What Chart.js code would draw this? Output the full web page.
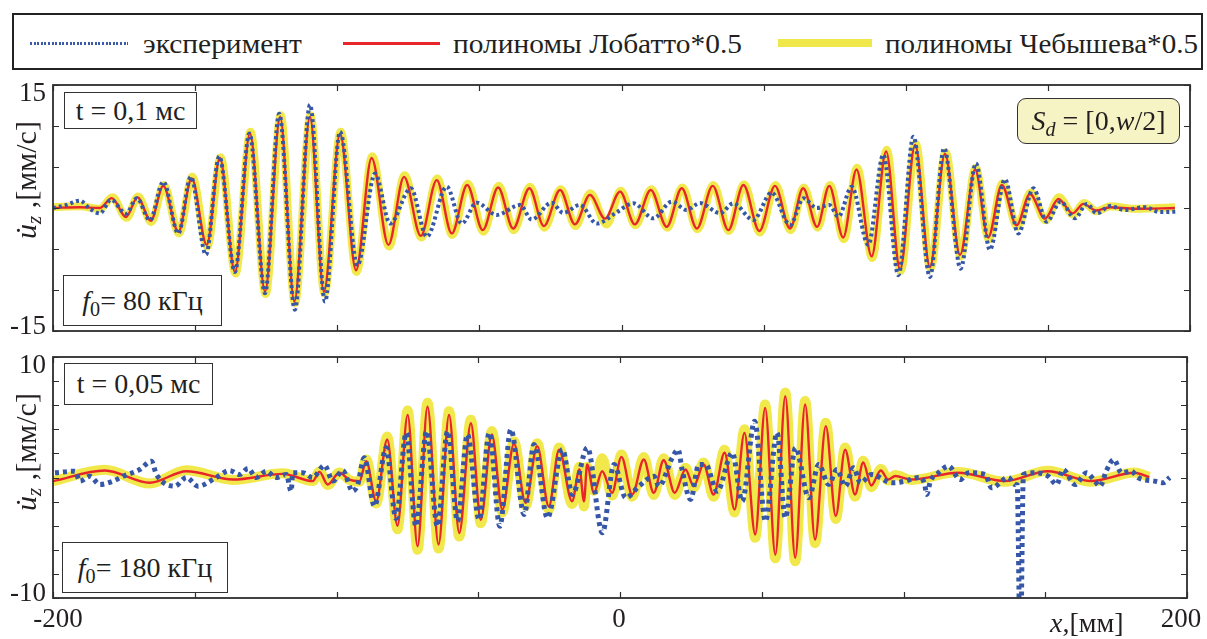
<!DOCTYPE html>
<html>
<head>
<meta charset="utf-8">
<script src="https://cdn.jsdelivr.net/npm/chart.js@4.4.0/dist/chart.umd.min.js"></script>
<style>
html,body{margin:0;padding:0;background:#fff;}
#page{position:relative;width:1207px;height:639px;overflow:hidden;font-family:"Liberation Serif","LiberationSerif","Tinos","DejaVu Serif","Noto Serif","Times New Roman",serif;color:#231f20;}
canvas{position:absolute;left:0;top:0;}
.t{position:absolute;font-size:28px;line-height:28px;white-space:nowrap;}
.box{position:absolute;border:1.5px solid #333;background:#fff;box-sizing:border-box;font-size:28px;line-height:1;white-space:nowrap;display:flex;align-items:center;justify-content:center;}
.box sub{font-size:0.72em;vertical-align:-0.32em;line-height:0;}
.ytitle{position:absolute;transform:translate(-50%,-50%) rotate(-90deg);font-size:30px;line-height:1;white-space:nowrap;}
.ytitle sub{font-size:0.7em;vertical-align:-0.25em;line-height:0;}
#legend{position:absolute;left:12px;top:13px;width:1191px;height:57px;border:2px solid #222;box-sizing:border-box;background:#fff;}
.sw{position:absolute;}
</style>
</head>
<body>
<div id="page">
  <div id="legend"></div>
  <div class="sw" style="left:30px;top:42px;width:98px;height:3px;background:repeating-linear-gradient(90deg,#3b5ba8 0 2px,transparent 2px 3.6px);"></div>
  <div class="t" data-w="159" style="left:143px;top:30px;">эксперимент</div>
  <div class="sw" style="left:343px;top:42px;width:97px;height:2.5px;background:#e8262a;"></div>
  <div class="t" data-w="289" style="left:453px;top:30px;">полиномы Лобатто*0.5</div>
  <div class="sw" style="left:778px;top:39px;width:94px;height:8px;background:#f0e84a;"></div>
  <div class="t" data-w="313" style="left:885px;top:30px;">полиномы Чебышева*0.5</div>

  <canvas id="c1" width="1207" height="639"></canvas>
  <canvas id="c2" width="1207" height="639"></canvas>

  <div class="ytitle" style="left:26px;top:180px;"><i>u&#775;</i><sub><i>z</i></sub> ,[мм/с]</div>
  <div class="ytitle" style="left:26px;top:452px;"><i>u&#775;</i><sub><i>z</i></sub> ,[мм/с]</div>

  <div class="box" style="left:64px;top:92px;width:133px;height:37px;"><span>t = 0,1 мс</span></div>
  <div class="box" style="left:63px;top:275px;width:159px;height:51px;"><span><i>f</i><sub>0</sub>= 80 кГц</span></div>
  <div class="box" style="left:1017px;top:98px;width:163px;height:46px;border-radius:9px;background:#f6f3c4;"><span><i>S</i><sub><i>d</i></sub>&nbsp;= [0,<i>w</i>/2]</span></div>
  <div class="box" style="left:64px;top:363px;width:149px;height:42px;"><span>t = 0,05 мс</span></div>
  <div class="box" style="left:62px;top:542px;width:166px;height:51px;"><span><i>f</i><sub>0</sub>= 180 кГц</span></div>

  <div class="t" style="left:1050px;top:609px;"><i>x</i>,[мм]</div>
</div>
<script>
// ---------- data (x in mm, y in mm/s) ----------
const xTicks = [-200,-150,-100,-50,0,50,100,150,200];
const xTickLabels = [[-200,'-200'],[0,'0'],[200,'200']];
const topYTicks = [-15,-10,-5,0,5,10,15];
const topYTickLabels = [[15,'15'],[-15,'-15']];
const botYTicks = [-10,-8,-6,-4,-2,0,2,4,6,8,10];
const botYTickLabels = [[10,'10'],[-10,'-10']];

// panel 1: t = 0.1 ms, f0 = 80 kHz
const topExperiment = [[-200,0],[-195.5,0.35],[-190.5,0.9],[-187,-0.1],[-183.5,-0.65],[-179.6,1.0],[-174.3,-0.7],[-170.5,1.2],[-165.9,-1.5],[-161.2,3.2],[-155.9,-3.1],[-151.5,3.8],[-146.2,-5.7],[-141.5,6.3],[-136,-7.8],[-130.9,9.1],[-125.4,-10.4],[-120.4,11.5],[-114.9,-12.4],[-109.6,12.6],[-104.3,-11.4],[-99,9.3],[-92.9,-7.0],[-86.7,4.2],[-81.4,-1.9],[-74.1,2.4],[-68.5,-3.5],[-61.5,2.6],[-56.2,-1.9],[-51,0.65],[-43.9,-0.85],[-35.7,0.37],[-31.6,-1.4],[-24.6,0.65],[-20.5,-0.6],[-14.6,0.37],[-8.7,-1.9],[-2,-0.6],[4.2,0.57],[11.2,-1.26],[17.7,0.77],[22.9,-0.24],[27.6,0.6],[34.7,-0.65],[39.3,0.57],[46.4,-1.46],[52.8,1.87],[59.3,-2.07],[64,1.18],[68.7,0],[73.1,0.37],[76.3,-1.06],[81,2.6],[86.8,-4.5],[92.1,6.5],[97.4,-8.2],[102.7,8.7],[108.5,-8.4],[113.5,7.3],[119.3,-7.4],[124.7,5.45],[129.6,-5.1],[134.9,3.5],[139.6,-3.1],[144.9,2.4],[149.6,-1.67],[154.5,0.77],[159.5,-1.26],[163.7,0.49],[167.2,-0.65],[171.9,0.25],[177.1,-0.25],[184.2,0.1],[189.4,-0.5],[195.3,-0.45]];
const topLobatto = [[-200,0],[-190.5,0.1],[-183.5,0],[-179.3,1.2],[-174.3,-1.1],[-170.3,1.3],[-165.6,-1.55],[-161.2,2.7],[-155.9,-2.9],[-151.2,3.6],[-145.9,-4.5],[-141.3,6.1],[-136,-7.8],[-130.7,9.1],[-125.4,-10.2],[-120.1,11.1],[-115.1,-11.4],[-109.6,11.1],[-104.7,-10.2],[-99,9.1],[-93.4,-7.6],[-87.9,6.1],[-82,-4.5],[-76.5,3.8],[-70.6,-3.4],[-65,3.4],[-59.7,-3.1],[-54.3,2.8],[-48.8,-2.7],[-43.4,2.5],[-38.1,-2.5],[-32.4,2.4],[-27.3,-2.2],[-21.6,2.2],[-16.4,-2.0],[-11.1,1.6],[-5.8,-1.3],[-0.5,2.0],[4.7,-2.0],[10.3,2.2],[15.9,-2.3],[21.2,2.4],[26.5,-2.5],[32.1,2.7],[37.6,-2.7],[42.9,2.8],[48.5,-2.8],[54,2.7],[59.3,-2.5],[63.9,2.4],[68.8,-2.3],[73.1,2.7],[78,-3.6],[82.7,4.7],[88,-5.9],[93.1,6.9],[98,-7.5],[103.3,7.7],[108.5,-7.2],[113.8,6.6],[119.1,-5.7],[124.4,4.7],[129,-3.6],[133.8,2.8],[139,-2.1],[143.7,1.7],[149,-1.3],[153.7,1.1],[158.7,-0.65],[162.5,0.5],[166.9,-0.3],[171.9,0.1],[180.7,-0.1],[194.7,0]];
const topChebyshev = [[-200,0.1],[-190.5,0.2],[-183.5,-0.1],[-179.1,1.3],[-174.1,-1.2],[-170.1,1.4],[-165.4,-1.7],[-161,2.8],[-155.7,-3.1],[-151,3.8],[-145.7,-4.7],[-141,6.2],[-135.8,-8.0],[-130.5,9.3],[-125.2,-10.5],[-119.9,11.3],[-114.9,-11.6],[-109.4,11.3],[-104.5,-10.4],[-98.8,9.3],[-93.2,-7.8],[-87.7,6.3],[-81.8,-4.7],[-76.3,4.0],[-70.4,-3.6],[-64.8,3.6],[-59.5,-3.3],[-54.1,3.0],[-48.6,-2.9],[-43.2,2.7],[-37.9,-2.7],[-32.2,2.6],[-27.1,-2.4],[-21.4,2.3],[-16.2,-2.2],[-11,1.8],[-5.2,-2.0],[-0.3,2.1],[4.9,-2.1],[10.5,2.3],[16.1,-2.4],[21.4,2.5],[26.7,-2.6],[32.3,2.8],[37.8,-2.8],[43.1,2.9],[48.7,-3.0],[54.2,2.8],[59.5,-2.7],[64.1,2.5],[69,-2.4],[73.3,2.8],[78.2,-3.8],[82.9,4.9],[88.2,-6.1],[93.3,7.1],[98.2,-7.7],[103.5,7.9],[108.7,-7.4],[114,6.8],[119.3,-5.9],[124.6,4.9],[129.2,-3.8],[134,3.0],[139.2,-2.3],[143.9,1.9],[149.2,-1.5],[153.9,1.3],[158.9,-0.8],[162.7,0.6],[167.1,-0.4],[172,0.2],[180.8,-0.1],[194.7,0.1]];

// panel 2: t = 0.05 ms, f0 = 180 kHz
const botExperiment = [[-199.3,0.39],[-192.3,0.52],[-190.5,-0.3],[-187,0.1],[-183.5,-0.58],[-178.8,-0.3],[-175.3,0.1],[-169.4,0.66],[-165.3,1.35],[-163.5,0.25],[-157.1,-0.72],[-152.9,0],[-148.9,-0.72],[-142.4,0],[-137.7,0.58],[-134.2,0.25],[-131.2,0.75],[-128.3,0],[-124.8,0.52],[-121.3,0],[-117.7,0.25],[-116,-1.14],[-115.4,0.39],[-111.9,0.39],[-108.4,0],[-104.2,1.02],[-101.3,-0.3],[-97.8,0.58],[-94.3,-1.14],[-92.5,-0.58],[-90.2,1.63],[-86.6,-2.38],[-82.5,2.46],[-79,-3.4],[-75.4,3.7],[-72,-4.04],[-68.2,3.84],[-64.4,-4.04],[-60.8,3.84],[-57.3,-3.63],[-53.8,3.57],[-49.7,-3.49],[-46.1,3.7],[-42.4,-4.04],[-38.5,3.98],[-33.8,-3.07],[-30.3,2.74],[-25.6,-3.35],[-20.3,2.32],[-16.8,-1.41],[-11.5,2.46],[-6.2,-4.59],[-2.1,1.08],[2,-1.68],[6.7,-0.72],[12,0.1],[13.7,-0.72],[18.4,1.63],[20.5,2.32],[21.9,0.66],[24.9,-1.83],[27.8,1.08],[30.2,1.08],[34.3,-1.14],[39.6,2.05],[43.1,-1.97],[47.5,4.67],[51.3,-3.63],[55.4,3.71],[58.3,-3.35],[61.9,2.46],[66.6,-1.68],[70.1,1.08],[73.6,-0.58],[76.5,0.66],[79.5,-0.72],[82.4,0.8],[84.8,-0.44],[88.8,0.25],[95.9,-0.44],[100.6,-0.3],[105.3,0],[107.4,-0.5],[108.2,-1.41],[109.5,-0.3],[112.3,0.39],[115.9,0.94],[120,-0.17],[122.9,0.39],[128.8,0.25],[131.1,-0.86],[137,0],[139.3,-0.58],[140.1,-0.6],[141.2,-15],[142.3,0.25],[146.4,0.39],[151.1,0.1],[154,-0.58],[156.3,0.66],[160.5,-0.58],[164.6,0.39],[167.5,-0.3],[169.3,-0.72],[171.6,0.58],[174.2,1.49],[176.9,0.39],[180.4,0.52],[182.7,0],[188.6,-0.3],[191.6,-0.44],[193.9,0]];
const botLobatto = [[-200,-0.3],[-181.7,0.58],[-165.9,-0.44],[-152.9,0.52],[-136.5,-0.17],[-118.9,0.3],[-108.4,-0.3],[-106,0.47],[-103.1,-0.58],[-99,0.39],[-95.5,-0.17],[-91.9,-0.3],[-89.5,1.35],[-86,-1.97],[-82.1,3.15],[-78.5,-4.0],[-74.9,5.2],[-71.4,-5.7],[-67.9,5.87],[-64,-5.56],[-60.3,5.2],[-56.7,-4.6],[-52.6,4.5],[-49.1,-3.5],[-45.2,3.57],[-41.5,-2.66],[-37.4,2.8],[-33.3,-2.1],[-29.2,2.6],[-25.1,-2.4],[-21.5,2.3],[-16.9,-1.97],[-14.3,0.66],[-12.7,-1.97],[-11.6,1.08],[-9.2,-1.27],[-6.3,0.52],[-2.8,-1.27],[0.5,1.71],[4.3,-1.41],[8.4,1.5],[11.9,-1.27],[15.4,1.43],[19.3,-1.27],[23.1,0.66],[26,-0.72],[29.5,1.08],[33,-1.41],[36.9,2.05],[40.4,-2.66],[43.9,3.7],[47.7,-4.73],[51.2,5.78],[54.8,-6.4],[58.3,6.75],[61.8,-6.66],[65.3,6.06],[68.8,-5.15],[72.6,4.26],[76.1,-3.2],[79.4,2.3],[82.9,-1.41],[85.8,1.24],[88.6,-0.66],[92,0.58],[94.6,-0.17],[97.1,0.12],[102.8,-0.17],[119.3,0.39],[135.7,-0.3],[150.9,0.52],[166.2,-0.3],[181.5,0.39],[186.7,0.02]];
const botChebyshev = [[-200,-0.3],[-181.7,0.65],[-165.9,-0.5],[-152.9,0.6],[-136.5,-0.2],[-118.9,0.35],[-108.4,-0.3],[-106,0.5],[-103.1,-0.62],[-99,0.42],[-95.5,-0.2],[-91.9,-0.35],[-89.5,1.5],[-86,-2.15],[-82.1,3.4],[-78.5,-4.3],[-74.9,5.55],[-71.4,-6.0],[-67.9,6.2],[-64,-5.9],[-60.3,5.5],[-56.7,-4.9],[-52.6,4.8],[-49.1,-3.8],[-45.2,3.85],[-41.5,-2.9],[-37.4,3.0],[-33.3,-2.35],[-29.2,2.85],[-25.1,-2.65],[-21.5,2.5],[-16.9,-2.2],[-14.3,0.9],[-12.7,-2.4],[-11.6,0.9],[-9.2,-1.1],[-6.3,1.6],[-2.8,-1.5],[0.5,1.9],[4.3,-1.6],[8.4,1.7],[11.9,-1.45],[15.4,1.6],[19.3,-1.45],[23.1,0.8],[26,-0.85],[29.5,1.25],[33,-1.6],[36.9,2.3],[40.4,-2.9],[43.9,4.0],[47.7,-5.0],[51.2,6.05],[54.8,-6.7],[58.3,7.05],[61.8,-6.95],[65.3,6.35],[68.8,-5.45],[72.6,4.55],[76.1,-3.45],[79.4,2.5],[82.9,-1.6],[85.8,1.4],[88.6,-0.8],[92,0.7],[94.6,-0.25],[97.1,0.2],[102.8,-0.2],[119.3,0.45],[135.7,-0.35],[150.9,0.55],[166.2,-0.35],[181.5,0.42],[186.7,0.05]];

// ---------- styling ----------
const BLUE = '#3656a8', RED = '#e8262a', YELLOW = '#f1e94c';
const FONT_FAMILY = '"Liberation Serif", "LiberationSerif", "Tinos", "DejaVu Serif", "Noto Serif", "Times New Roman", serif';
const toPts = arr => arr.map(p => ({x: p[0], y: p[1]}));

function axesPlugin(cfg){
  return {
    id: 'matlabAxes',
    afterDatasetsDraw(chart){
      const ctx = chart.ctx, a = chart.chartArea, xs = chart.scales.x, ys = chart.scales.y;
      ctx.save();
      ctx.strokeStyle = '#2d2d2d';
      ctx.lineWidth = 1.2;
      ctx.beginPath();
      cfg.xTicks.forEach(v => {
        const p = Math.round(xs.getPixelForValue(v)) + 0.5;
        ctx.moveTo(p, a.top); ctx.lineTo(p, a.top + 6);
        ctx.moveTo(p, a.bottom); ctx.lineTo(p, a.bottom - 6);
      });
      cfg.yTicks.forEach(v => {
        const p = Math.round(ys.getPixelForValue(v)) + 0.5;
        ctx.moveTo(a.left, p); ctx.lineTo(a.left + 6, p);
        ctx.moveTo(a.right, p); ctx.lineTo(a.right - 6, p);
      });
      ctx.stroke();
      ctx.lineWidth = 1.8;
      ctx.strokeRect(a.left, a.top, a.right - a.left, a.bottom - a.top);
      ctx.fillStyle = '#231f20';
      ctx.font = '27px ' + FONT_FAMILY;
      ctx.textBaseline = 'alphabetic';
      ctx.textAlign = 'right';
      cfg.yLabels.forEach(([v, t]) => {
        const p = ys.getPixelForValue(v);
        ctx.fillText(t, 46, v > 0 ? p + 16 : p + 3);
      });
      ctx.textAlign = 'center';
      (cfg.xLabels || []).forEach(([v, t]) => {
        const p = xs.getPixelForValue(v);
        const off = v < 0 ? 5 : (v > 0 ? -6 : -1);
        ctx.fillText(t, p + off, 627);
      });
      ctx.restore();
    }
  };
}

function makeChart(id, pad, yMin, yMax, exp, lob, cheb, expW, expDash, chebW, cfg){
  return new Chart(document.getElementById(id), {
    type: 'line',
    data: {
      datasets: [
        {label: 'эксперимент', data: toPts(exp), borderColor: BLUE, borderWidth: expW, borderDash: expDash, pointRadius: 0, cubicInterpolationMode: 'monotone', order: 1, clip: 0},
        {label: 'полиномы Лобатто*0.5', data: toPts(lob), borderColor: RED, borderWidth: 2.4, pointRadius: 0, cubicInterpolationMode: 'monotone', order: 2},
        {label: 'полиномы Чебышева*0.5', data: toPts(cheb), borderColor: YELLOW, borderWidth: chebW, pointRadius: 0, cubicInterpolationMode: 'monotone', order: 3}
      ]
    },
    options: {
      responsive: false, animation: false, devicePixelRatio: 1, events: [],
      layout: {padding: pad},
      plugins: {legend: {display: false}, tooltip: {enabled: false}},
      scales: {
        x: {type: 'linear', min: -200, max: 200, display: false},
        y: {type: 'linear', min: yMin, max: yMax, display: false}
      }
    },
    plugins: [axesPlugin(cfg)]
  });
}

makeChart('c1', {left: 53, top: 85, right: 1207 - 1190, bottom: 639 - 331}, -15, 15,
  topExperiment, topLobatto, topChebyshev, 4, [3, 3], 8,
  {xTicks: xTicks, yTicks: topYTicks, yLabels: topYTickLabels});
makeChart('c2', {left: 53, top: 357, right: 1207 - 1187, bottom: 639 - 598}, -10, 10,
  botExperiment, botLobatto, botChebyshev, 5, [4, 4], 10,
  {xTicks: xTicks, yTicks: botYTicks, yLabels: botYTickLabels, xLabels: xTickLabels});

// fit legend text widths to reference
document.querySelectorAll('[data-w]').forEach(el => {
  const w = +el.dataset.w, cur = el.getBoundingClientRect().width;
  if (cur > 0) {
    const r = Math.max(0.8, Math.min(1.2, w / cur));
    el.style.transformOrigin = '0 0';
    el.style.transform = 'scaleX(' + r + ')';
  }
});
</script>
</body>
</html>
